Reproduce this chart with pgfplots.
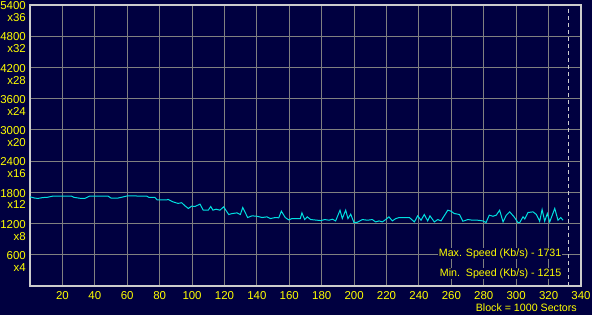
\documentclass[border=0pt]{standalone}
\usepackage{fontspec}
\setmainfont{Liberation Sans}
\usepackage{pgfplots}
\pgfplotsset{compat=1.18}
\definecolor{navy}{RGB}{0,0,64}
\definecolor{gridc}{RGB}{128,128,128}
\definecolor{framec}{RGB}{204,204,204}
\definecolor{ylw}{RGB}{255,255,0}
\definecolor{cyanl}{RGB}{0,224,224}
\begin{document}
\begin{tikzpicture}
\useasboundingbox (0,0) rectangle (592bp,315bp);
\fill[navy] (0,0) rectangle (592bp,315bp);
\begin{axis}[
  name=ax,
  at={(30bp,29bp)}, anchor=south west,
  scale only axis, width=551bp, height=281bp,
  xmin=0, xmax=340, ymin=0, ymax=5400,
  axis background/.style={fill=navy},
  axis line style={draw=framec, line width=2bp},
  grid=major, major grid style={draw=gridc, line width=1bp},
  major tick length=0pt,
  xtick={20,40,60,80,100,120,140,160,180,200,220,240,260,280,300,320,340},
  xticklabels={20,40,60,80,100,120,140,160,180,200,220,240,260,280,300,320,340},
  ytick={600,1200,1800,2400,3000,3600,4200,4800,5400},
  yticklabels={{600\\x4},{1200\\x8},{1800\\x12},{2400\\x16},{3000\\x20},{3600\\x24},{4200\\x28},{4800\\x32},{5400\\x36}},
  tick label style={font=\fontsize{11.5}{12}\selectfont, text=ylw, inner sep=0pt},
  yticklabel style={align=right, anchor=north east, xshift=-4bp, yshift=3.5bp},
  xticklabel style={anchor=north, yshift=-5bp},
  clip=false,
]
\addplot[draw=framec, line width=1bp, dash pattern=on 4bp off 3bp, forget plot] coordinates {(332,0) (332,5400)};
\addplot[draw=cyanl, line width=1bp, mark=none] coordinates {
(0,1714) (2.9,1690) (4.9,1683) (8.0,1700) (10.5,1703) (14.2,1728) (25.5,1728) (27.2,1703)
(31.5,1683) (33.8,1683) (36.8,1728) (48.1,1728) (50.0,1690) (54.3,1690) (56.2,1703)
(60.0,1731) (72.0,1728) (73.4,1703) (77.1,1703) (78.4,1656) (84.5,1656) (85.2,1665)
(88.2,1618) (91.3,1587) (93.6,1600) (95.6,1541) (97.7,1490) (99.8,1535) (101.8,1528)
(104.9,1573) (106.9,1457) (110.0,1457) (111.5,1528) (112.9,1457) (114.8,1476) (117.2,1457)
(119.5,1521) (122.6,1374) (124.7,1392) (127.7,1405) (129.8,1374) (131.3,1509) (134.3,1316)
(137.0,1348) (140.1,1340) (143.2,1316) (146.2,1329) (148.3,1296) (151.4,1316) (153.5,1310)
(155.1,1438) (157.5,1316) (159.6,1270) (161.7,1296) (166.8,1296) (167.8,1405) (169.5,1277)
(171.1,1328) (173.2,1277) (177.3,1264) (179.4,1257) (181.9,1277) (184.5,1264) (186.6,1283)
(188.6,1251) (191.3,1457) (192.7,1296) (194.8,1457) (196.2,1296) (197.9,1380) (199.9,1219)
(202.0,1225) (205.1,1277) (208.2,1264) (211.2,1277) (213.3,1231) (215.4,1251) (217.4,1231)
(219.5,1277) (221.5,1328) (223.6,1251) (225.7,1296) (227.9,1316) (234.1,1316) (237.2,1231)
(239.2,1348) (241.3,1264) (243.3,1374) (245.4,1251) (246.8,1348) (249.5,1231) (251.6,1277)
(253.6,1251) (257.8,1457) (259.8,1438) (261.8,1393) (265.0,1374) (267.1,1244) (270.2,1277)
(273.2,1264) (276.3,1264) (279.4,1251) (281.4,1219) (283.4,1361) (285.7,1340) (287.7,1361)
(289.8,1457) (291.9,1231) (293.9,1361) (296.0,1425) (298.7,1329) (301.1,1219) (302.2,1219)
(304.2,1329) (305.3,1290) (307.3,1412) (310.4,1425) (312.5,1374) (314.5,1244) (316.0,1470)
(317.6,1244) (319.2,1393) (320.7,1231) (323.8,1490) (325.8,1264) (327.5,1316) (328.9,1264)
};
\node[anchor=base east, fill=navy, inner sep=0.5bp, text=ylw, font=\fontsize{10.7}{12}\selectfont] at (axis cs:328.3,563) {Max. Speed (Kb/s) - 1731};
\node[anchor=base east, fill=navy, inner sep=0.5bp, text=ylw, font=\fontsize{10.7}{12}\selectfont] at (axis cs:328.3,179) {Min.\ \ Speed (Kb/s) - 1215};
\end{axis}
\node[anchor=base east, inner sep=0pt, text=ylw, font=\fontsize{10.7}{12}\selectfont] at ([xshift=-4bp,yshift=-25bp]ax.south east) {Block = 1000 Sectors};
\end{tikzpicture}
\end{document}
